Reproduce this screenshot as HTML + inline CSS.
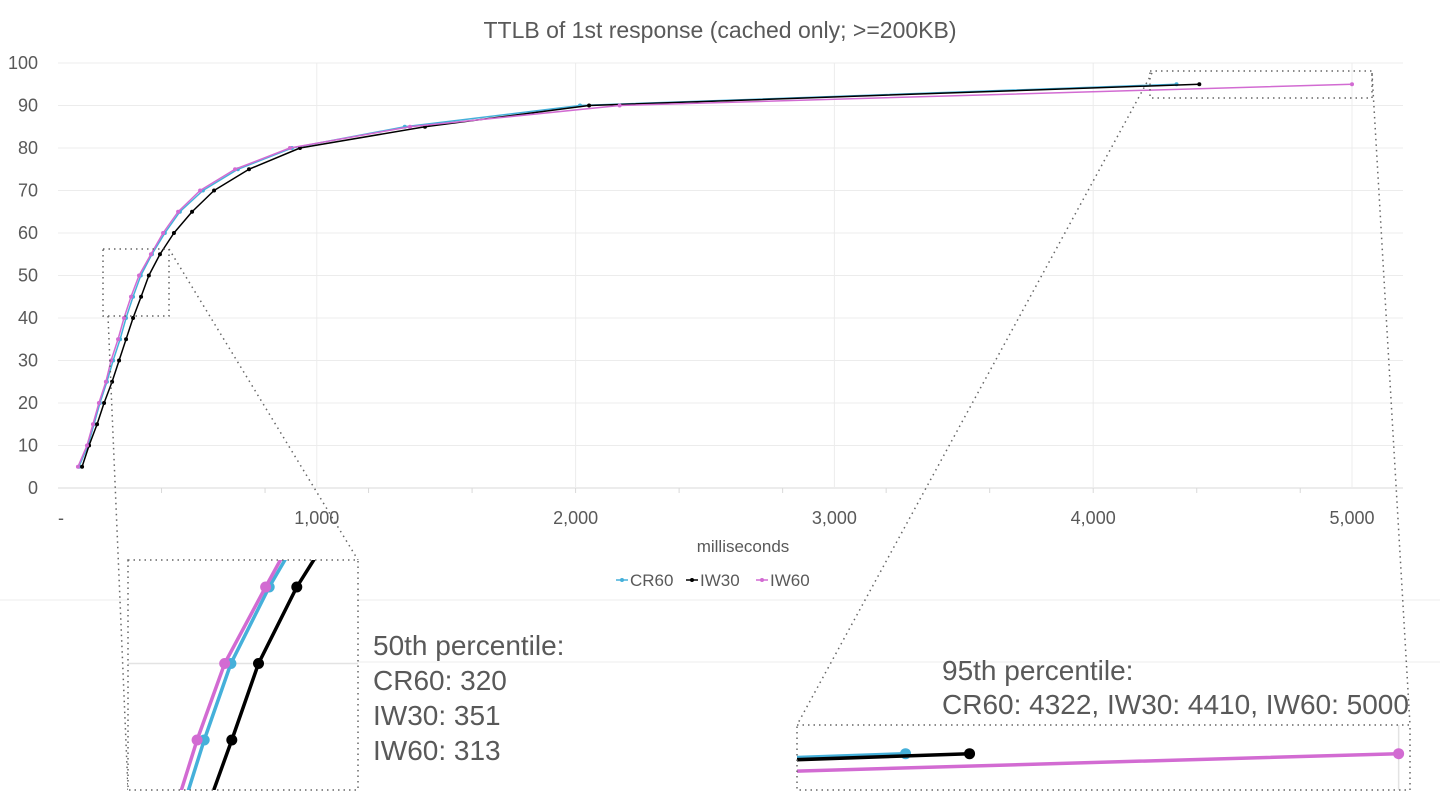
<!DOCTYPE html>
<html><head><meta charset="utf-8"><style>
html,body{margin:0;background:#fff;font-family:"Liberation Sans",sans-serif;width:1440px;height:810px;overflow:hidden}
svg{display:block}
</style></head><body>
<svg id="c" width="1440" height="810" xmlns="http://www.w3.org/2000/svg" style="overflow:hidden">
<rect width="1440" height="810" fill="#fff"/>
<line x1="0" y1="600" x2="1440" y2="600" stroke="#eee"/>
<text x="720" y="38" text-anchor="middle" font-size="23" fill="#595959">TTLB of 1st response (cached only; &gt;=200KB)</text>
<g id="grid"></g><g id="main"></g>
<text x="743" y="552" text-anchor="middle" font-size="17" fill="#595959">milliseconds</text>
<g id="legend"></g><g id="insets"></g>
<text font-size="28" fill="#595959"><tspan x="373" y="655">50th percentile:</tspan><tspan x="373" y="690">CR60: 320</tspan><tspan x="373" y="725">IW30: 351</tspan><tspan x="373" y="760">IW60: 313</tspan></text>
<text font-size="28" fill="#595959"><tspan x="942" y="680">95th percentile:</tspan><tspan x="942" y="714">CR60: 4322, IW30: 4410, IW60: 5000</tspan></text>
</svg>
<script>
const percentiles=[5,10,15,20,25,30,35,40,45,50,55,60,65,70,75,80,85,90,95];
const cr60=[81,116,139,162,189,213,240,263,290,320,363,413,471,560,695,904,1340,2017,4322];
const iw30=[93,120,151,178,209,236,263,290,321,351,394,448,518,603,738,935,1418,2052,4410];
const iw60=[77,112,135,158,185,205,232,255,282,313,359,406,464,549,684,896,1360,2170,5000];
const xTicks=[0,1000,2000,3000,4000,5000];
const xTickLabels=["-","1,000","2,000","3,000","4,000","5,000"];
const yTicks=[0,10,20,30,40,50,60,70,80,90,100];
const seriesNames=["CR60","IW30","IW60"];
const NS="http://www.w3.org/2000/svg";
const X=v=>58+v*0.2588, Y=v=>488-v*4.25;
function mk(t,a,p){const e=document.createElementNS(NS,t);for(const k in a)e.setAttribute(k,a[k]);p.appendChild(e);return e;}
const grid=document.getElementById('grid');
yTicks.forEach(v=>{
 const l=mk('line',{x1:58,x2:1403,y1:Y(v),y2:Y(v),stroke:v==0?'#d9d9d9':'#ececec'},grid);
 
 
 const t=mk('text',{x:38,y:Y(v)+6,'text-anchor':'end','font-size':18,fill:'#595959'},grid);t.textContent=v;
 
 
});
xTicks.forEach((v,i)=>{
 if(v>0){const l=mk('line',{x1:X(v),x2:X(v),y1:Y(100),y2:Y(0),stroke:'#ececec'},grid);
 
 }
 const t=mk('text',{x:X(v)+(i==0?3:0),y:524,'text-anchor':'middle','font-size':18,fill:'#595959'},grid);t.textContent=xTickLabels[i];
 
 
});
for(let v=400;v<5200;v+=400){mk('line',{x1:X(v),x2:X(v),y1:488,y2:493,stroke:'#d9d9d9'},grid);}
const series=[[cr60,'#45b0da'],[iw30,'#000'],[iw60,'#d26bd2']];
function draw(g,fx,fy,lw,r){
 series.forEach(([d,c],si)=>{
  const pts=d.map((v,i)=>fx(X(v))+','+fy(Y(percentiles[i]))).join(' ');
  const pl=mk('polyline',{points:pts,fill:'none',stroke:c,'stroke-width':lw,'stroke-linejoin':'round'},g);
  
  
  d.forEach((v,i)=>{const p=mk('circle',{cx:fx(X(v)),cy:fy(Y(percentiles[i])),r:r,fill:c},g);
   
   });
 });
}
draw(document.getElementById('main'),x=>x,y=>y,1.5,2);
const lg=document.getElementById('legend');
[[650,0],[720,1],[790,2]].forEach(([cx,i])=>{
 const g=mk('g',{},lg);
 
 
 mk('line',{x1:cx-34,x2:cx-22,y1:580,y2:580,stroke:series[i][1],'stroke-width':1.5},g);
 mk('circle',{cx:cx-28,cy:580,r:2,fill:series[i][1]},g);
 const t=mk('text',{x:cx-20,y:586,'font-size':17,fill:'#595959'},g);t.textContent=seriesNames[i];
});
const ins=document.getElementById('insets');
const dot={fill:'none',stroke:'#666','stroke-width':1.5,'stroke-dasharray':'1.5 4'};
function inset(name,src,dst,ox,oy,fx_,fy_,line){
 const sb=mk('rect',Object.assign({x:src[0],y:src[1],width:src[2],height:src[3]},dot),ins);
 
 
 line.forEach(l=>mk('line',Object.assign({x1:l[0],y1:l[1],x2:l[2],y2:l[3]},dot),ins));
 const id=name+'clip';
 const cp=mk('clipPath',{id:id},ins);mk('rect',{x:dst[0],y:dst[1],width:dst[2],height:dst[3]},cp);
 const g=mk('g',{'clip-path':'url(#'+id+')'},ins);
 
 
 mk('rect',{x:dst[0],y:dst[1],width:dst[2],height:dst[3],fill:'#fff'},g);
 const fx=x=>dst[0]+(x-ox)*fx_, fy=y=>dst[1]+(y-oy)*fy_;
 yTicks.forEach(v=>mk('line',{x1:dst[0],x2:dst[0]+dst[2],y1:fy(Y(v)),y2:fy(Y(v)),stroke:'#e3e3e3','stroke-width':1.5},g));
 xTicks.forEach(v=>{if(v>0)mk('line',{x1:fx(X(v)),x2:fx(X(v)),y1:dst[1],y2:dst[1]+dst[3],stroke:'#e3e3e3','stroke-width':1.5},g);});
 draw(g,fx,fy,3.5,5.5);
 mk('rect',Object.assign({x:dst[0],y:dst[1],width:dst[2],height:dst[3]},dot),ins);
}
inset('median-inset',[103,249,66,67],[128,560,230,230],110.9,246.75,3.44,3.6,[[169,249,358,560],[108,316,128,790]]);
mk('line',{x1:358,y1:662,x2:1440,y2:662,stroke:'#ececec'},ins);
inset('p95-inset',[1150,71,222,27],[797,725,613,65],1137.9,74,2.81,2.8,[[1152,73,797,725],[1372,73,1410,725]]);
</script>
</body></html>
